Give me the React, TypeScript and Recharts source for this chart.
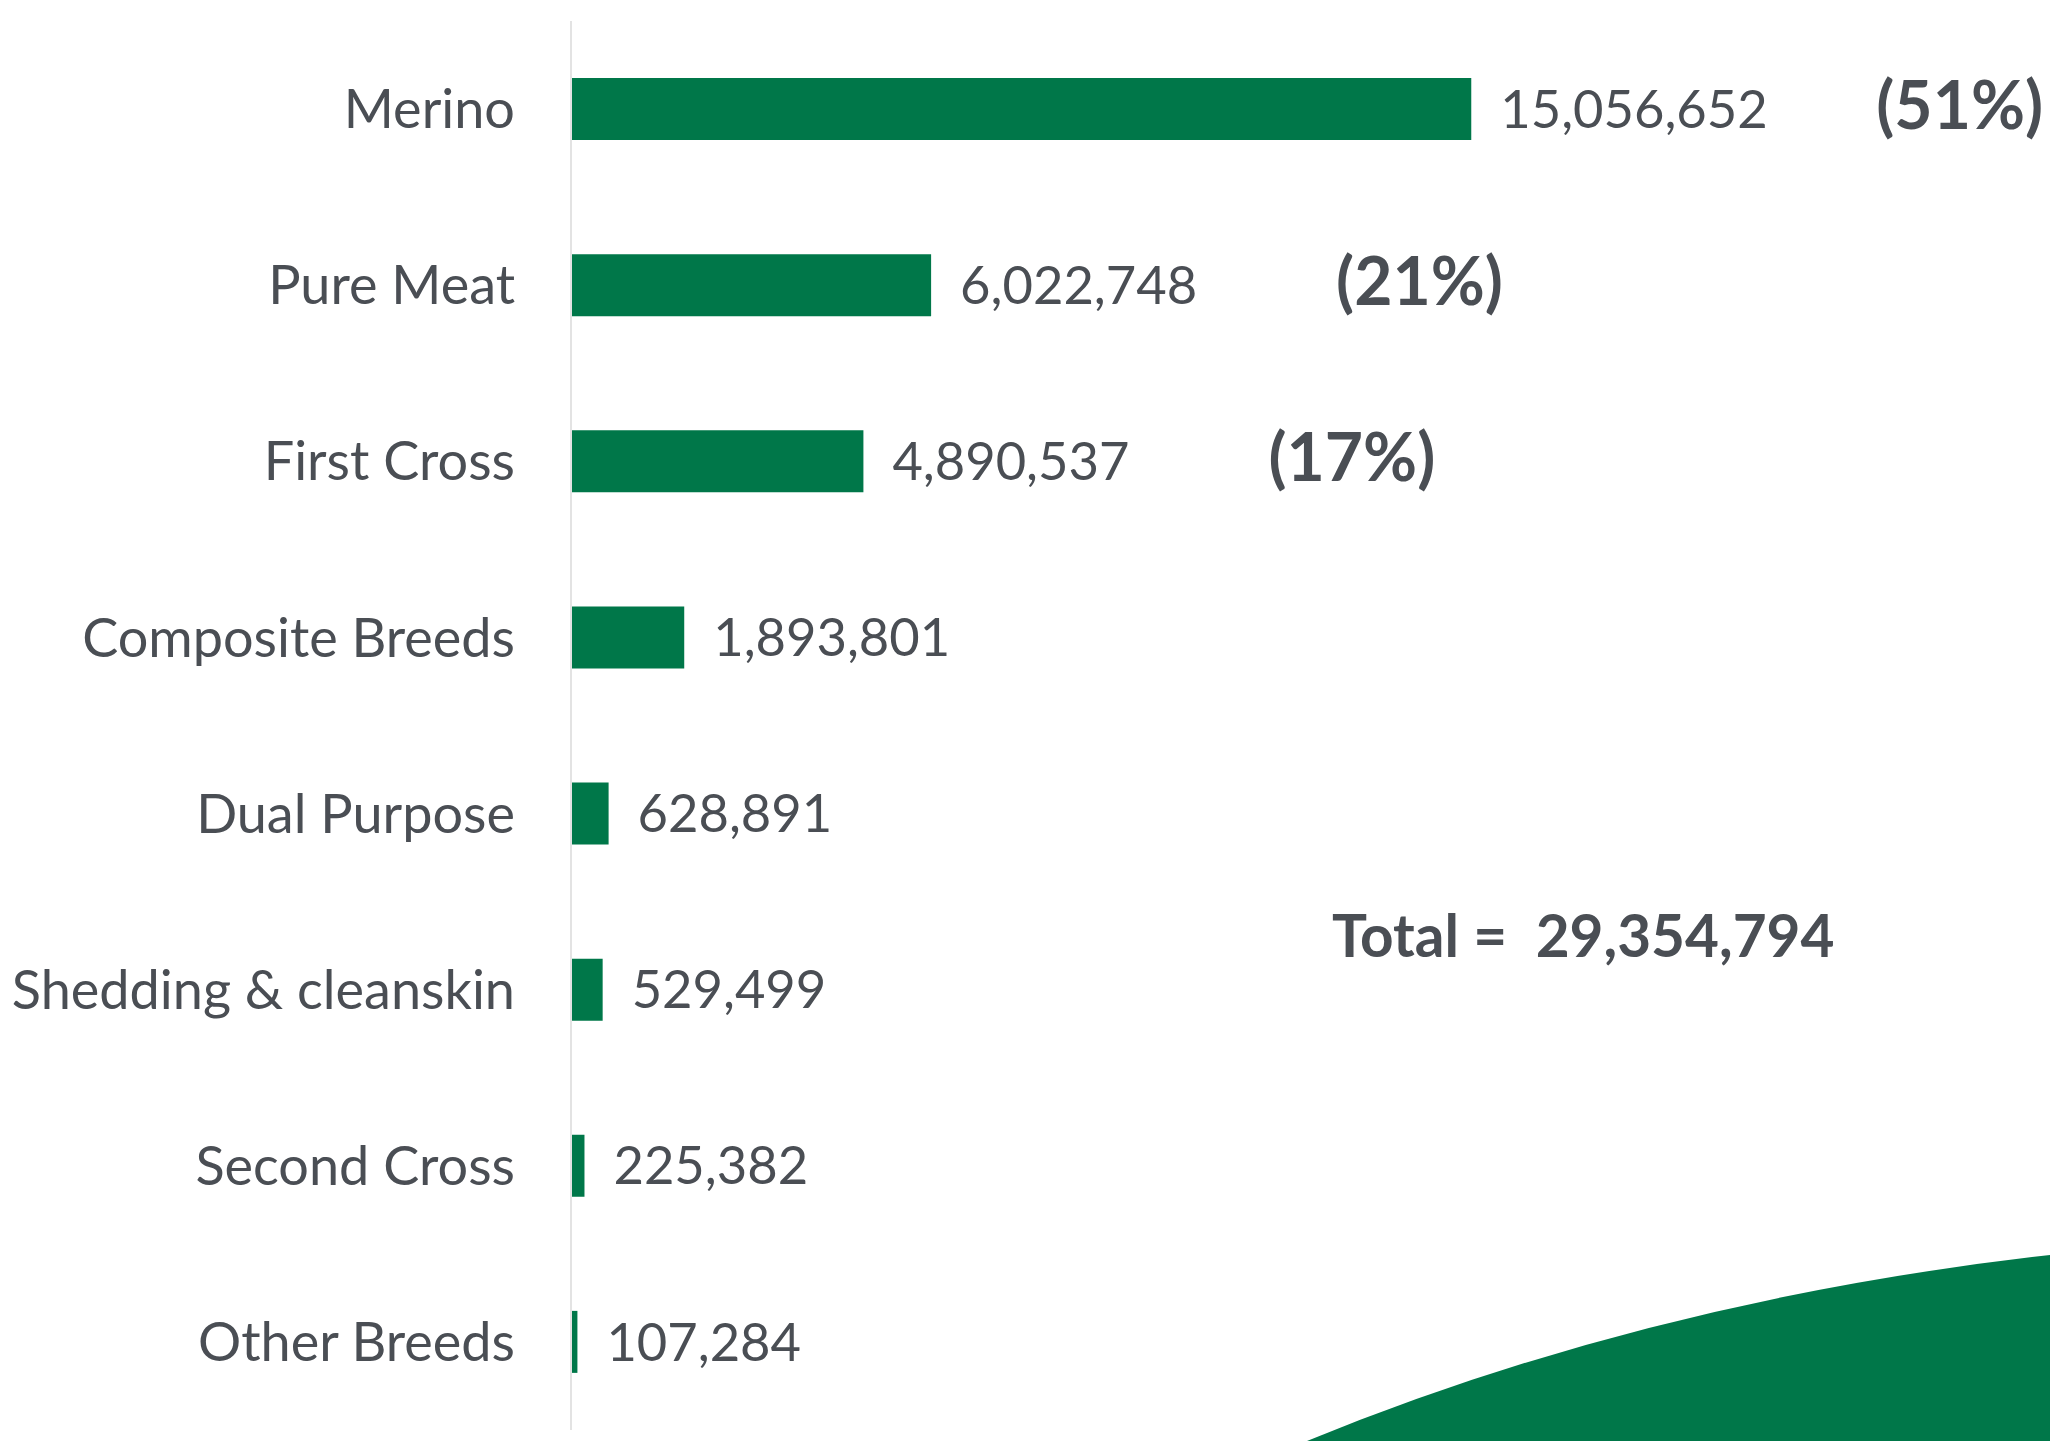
import { Bar, BarChart, LabelList, XAxis, YAxis } from "recharts";

const breeds = [
  "Merino",
  "Pure Meat",
  "First Cross",
  "Composite Breeds",
  "Dual Purpose",
  "Shedding & cleanskin",
  "Second Cross",
  "Other Breeds",
];
const sheep = [15056652, 6022748, 4890537, 1893801, 628891, 529499, 225382, 107284];
const shares = ["(51%)", "(21%)", "(17%)", "", "", "", "", ""];

const GREEN = "#007749";
const TEXT = "#4a4e54";
const FONT = "Lato, 'Open Sans', sans-serif";

const data = breeds.map((name, i) => ({ name, value: sheep[i], pct: shares[i] }));
const total = sheep.reduce((a, b) => a + b, 0);

function ShareLabel(props: any) {
  const { x, y, width, height, value } = props;
  if (!value) return null;
  return (
    <text
      x={x + width + 405}
      y={y + height / 2 - 6}
      fill={TEXT}
      fontFamily={FONT}
      fontWeight={700}
      fontSize={66}
      dominantBaseline="central"
    >
      {value}
    </text>
  );
}

export default function App() {
  return (
    <div style={{ position: "absolute", left: 0, top: 0, width: 2050, height: 1441, background: "#fff", overflow: "hidden" }}>
      <BarChart
        layout="vertical"
        width={2050}
        height={1441}
        data={data}
        margin={{ top: 21, right: 44, bottom: 11, left: 0 }}
        barSize={62}
      >
        <XAxis type="number" hide domain={[0, 24000000]} />
        <YAxis
          type="category"
          dataKey="name"
          width={571}
          tickLine={false}
          tickSize={0}
          tickMargin={56}
          axisLine={{ stroke: "#e3e3e3", strokeWidth: 2 }}
          tick={{ fill: TEXT, fontSize: 54, fontFamily: FONT }}
          interval={0}
        />
        <Bar dataKey="value" fill={GREEN} isAnimationActive={false}>
          <LabelList
            dataKey="value"
            position="right"
            offset={29}
            formatter={(v: any) => Number(v).toLocaleString("en-US")}
            style={{ fill: TEXT, fontSize: 52.5, fontFamily: FONT }}
          />
          <LabelList dataKey="pct" content={ShareLabel} />
        </Bar>
      </BarChart>
      <svg width={2050} height={1441} style={{ position: "absolute", left: 0, top: 0, pointerEvents: "none" }}>
        <path d="M1307,1441 Q1650,1300 2050,1255 L2050,1441 Z" fill={GREEN} />
        <text
          x={1332}
          y={957}
          fill={TEXT}
          fontFamily={FONT}
          fontWeight={700}
          fontSize={58.5}
          style={{ whiteSpace: "pre" }}
        >
          {`Total =  ${total.toLocaleString("en-US")}`}
        </text>
      </svg>
    </div>
  );
}
